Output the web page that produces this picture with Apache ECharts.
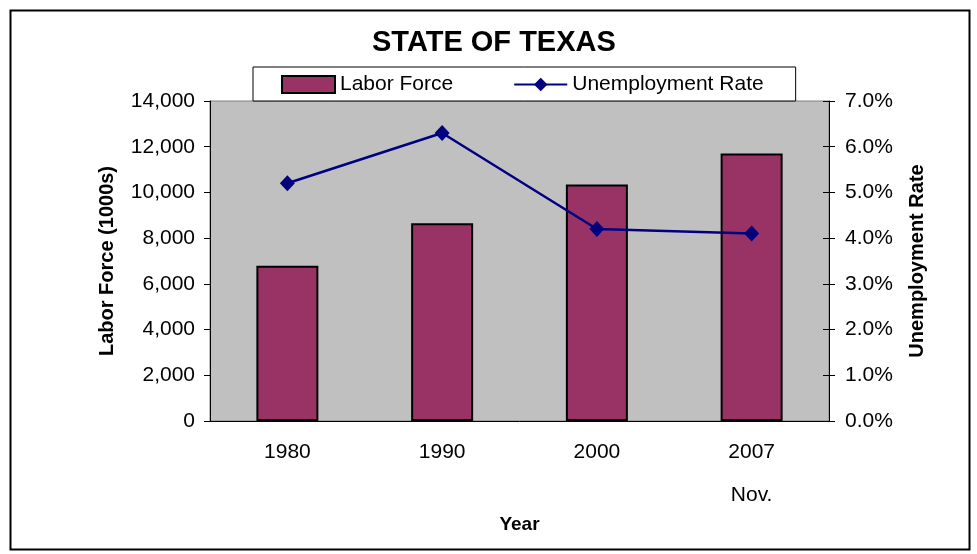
<!DOCTYPE html>
<html>
<head>
<meta charset="utf-8">
<title>State of Texas</title>
<script src="https://cdn.jsdelivr.net/npm/echarts@6/dist/echarts.min.js"></script>
<style>
  html, body { margin: 0; padding: 0; background: #ffffff; }
  #chart { width: 977px; height: 554px; }
</style>
</head>
<body>
<div id="chart"></div>
<script>
// Texas labor force (thousands) and unemployment rate (%)
const years = ['1980', '1990', '2000', '2007\nNov.'];
const laborForce = [6790, 8650, 10350, 11700];
const unemploymentRate = [5.2, 6.3, 4.2, 4.1];

const FONT = '"Liberation Sans", Arial, Helvetica, sans-serif';
const nameStyle = { fontFamily: FONT, fontSize: 20, fontWeight: 'bold', color: '#000000' };

const chart = echarts.init(document.getElementById('chart'), null, { renderer: 'canvas' });

chart.setOption({
  animation: false,
  backgroundColor: '#ffffff',
  textStyle: { fontFamily: FONT, color: '#000000' },
  title: {
    text: 'STATE OF TEXAS',
    left: 372,
    top: 28,
    padding: 0,
    textStyle: { fontFamily: FONT, fontSize: 29, fontWeight: 'bold', color: '#000000' }
  },
  legend: {
    left: 253,
    top: 67,
    padding: [7, 32, 6, 28],
    itemGap: 60,
    itemWidth: 53,
    itemHeight: 17,
    borderColor: '#000000',
    borderWidth: 1,
    backgroundColor: '#ffffff',
    textStyle: { fontFamily: FONT, fontSize: 21, color: '#000000' },
    data: [
      { name: 'Labor Force', icon: 'rect' },
      { name: 'Unemployment Rate' }
    ]
  },
  grid: {
    left: 210,
    right: 148,
    top: 101,
    bottom: 133,
    show: true,
    backgroundColor: '#c0c0c0',
    borderColor: '#808080',
    borderWidth: 1
  },
  xAxis: {
    type: 'category',
    data: years,
    boundaryGap: true,
    name: 'Year',
    nameLocation: 'middle',
    nameGap: 94,
    nameMoveOverlap: false,
    nameTextStyle: Object.assign({}, nameStyle, { fontSize: 19 }),
    axisLine: { show: true, lineStyle: { color: '#000000', width: 1 } },
    axisTick: { show: false },
    axisLabel: {
      fontFamily: FONT, fontSize: 21, color: '#000000',
      margin: 10, lineHeight: 43
    },
    splitLine: { show: false }
  },
  yAxis: [
    {
      type: 'value',
      position: 'left',
      min: 0,
      max: 14000,
      interval: 2000,
      name: 'Labor Force (1000s)',
      nameLocation: 'middle',
      nameRotate: 90,
      nameGap: 93,
      nameMoveOverlap: false,
      nameTextStyle: nameStyle,
      axisLine: { show: true, lineStyle: { color: '#000000', width: 1 } },
      axisTick: { show: true, length: 6, lineStyle: { color: '#000000' } },
      axisLabel: {
        fontFamily: FONT, fontSize: 21, color: '#000000', margin: 15,
        formatter: v => v.toLocaleString('en-US')
      },
      splitLine: { show: false }
    },
    {
      type: 'value',
      position: 'right',
      min: 0,
      max: 7,
      interval: 1,
      name: 'Unemployment Rate',
      nameLocation: 'middle',
      nameRotate: 90,
      nameGap: 78,
      nameMoveOverlap: false,
      nameTextStyle: nameStyle,
      axisLine: { show: true, lineStyle: { color: '#000000', width: 1 } },
      axisTick: { show: true, length: 6, lineStyle: { color: '#000000' } },
      axisLabel: {
        fontFamily: FONT, fontSize: 21, color: '#000000', margin: 16,
        formatter: v => v.toFixed(1) + '%'
      },
      splitLine: { show: false }
    },
    {
      // inner half of the crossing tick marks on the rate axis
      type: 'value',
      position: 'right',
      offset: 0,
      min: 0,
      max: 7,
      interval: 1,
      axisLine: { show: false },
      axisTick: { show: true, inside: true, length: 6, lineStyle: { color: '#000000' } },
      axisLabel: { show: false },
      splitLine: { show: false }
    }
  ],
  series: [
    {
      name: 'Labor Force',
      type: 'bar',
      yAxisIndex: 0,
      data: laborForce,
      barWidth: 62,
      itemStyle: { color: '#993366', borderColor: '#000000', borderWidth: 2 }
    },
    {
      name: 'Unemployment Rate',
      type: 'line',
      yAxisIndex: 1,
      data: unemploymentRate,
      symbol: 'diamond',
      symbolSize: [15, 16],
      lineStyle: { color: '#000080', width: 2.5 },
      itemStyle: { color: '#000080' }
    }
  ],
  graphic: [
    {
      type: 'rect',
      left: 8,
      top: 8,
      shape: { x: 0, y: 0, width: 959, height: 539 },
      style: { fill: 'none', stroke: '#000000', lineWidth: 2 },
      silent: true,
      z: 100
    }
  ]
});
</script>
</body>
</html>
